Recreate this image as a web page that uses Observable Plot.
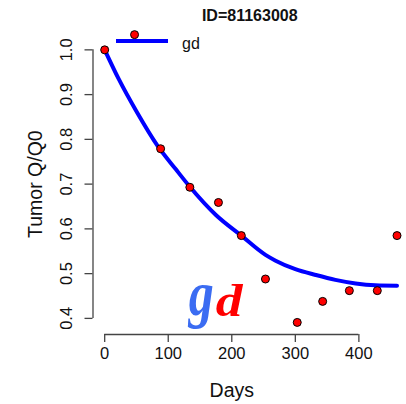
<!DOCTYPE html>
<html><head><meta charset="utf-8">
<script src="https://cdn.jsdelivr.net/npm/d3@7"></script>
<script src="https://cdn.jsdelivr.net/npm/@observablehq/plot@0.6"></script>
<style>
body{margin:0;background:#fff;}
svg{font-family:"Liberation Sans",Arial,sans-serif;}
</style>
</head><body><div id="chart"></div>
<script>
// observed data (days, tumor Q/Q0)
const days  = [0, 47, 88, 134, 179, 215, 253, 303, 343, 385, 429, 460];
const ratio = [1.0, 1.034, 0.779, 0.693, 0.659, 0.585, 0.488, 0.391, 0.438, 0.462, 0.462, 0.585];
// fitted curve
const fitDays  = [0, 22, 51, 83, 112, 134, 175, 215, 253, 269, 300, 332, 363, 395, 426, 460];
const fitRatio = [1.0, 0.935, 0.860, 0.786, 0.733, 0.694, 0.631, 0.585, 0.542, 0.529, 0.510, 0.497, 0.486, 0.478, 0.474, 0.473];
const xTicks = [0, 100, 200, 300, 400];
const yTicks = [0.4, 0.5, 0.6, 0.7, 0.8, 0.9, 1.0];
const titleText = "ID=81163008";
const xLabel = "Days";
const yLabel = "Tumor Q/Q0";
const legendLabel = "gd";
const logoChars  = ["g", "d"];
const logoColors = ["#3b6cf2", "#ff0000"];

const xDomain = [-18.4, 478.4];
const yDomain = [0.364, 1.06];

const pts = days.map((d, i) => ({day: d, r: ratio[i]}));
const fit = fitDays.map((d, i) => ({day: d, r: fitRatio[i]}));

const W = 406, H = 404, mL = 92.5, mT = 22.5, mB = 70;
const axisColor = "#444";

const plot = Plot.plot({
  width: W, height: H,
  marginLeft: mL, marginRight: 0, marginTop: mT, marginBottom: mB,
  style: {fontFamily: '"Liberation Sans", Arial, sans-serif', background: "#fff", overflow: "visible"},
  x: {domain: xDomain, range: [mL, 408.2]},
  y: {domain: yDomain, range: [H - mB, mT]},
  marks: [
    Plot.ruleY([yDomain[0]], {x1: xTicks[0], x2: xTicks[xTicks.length - 1], stroke: axisColor, strokeWidth: 1.3}),
    Plot.ruleX([xDomain[0]], {y1: yTicks[0], y2: yTicks[yTicks.length - 1], stroke: axisColor, strokeWidth: 1.3}),
    Plot.axisX({ticks: xTicks, tickSize: 8, tickPadding: 5, fontSize: 16.5, label: null, stroke: axisColor, strokeWidth: 1.3, color: "#111"}),
    Plot.axisY({ticks: yTicks, tickSize: 8, label: null, tickFormat: () => "", stroke: axisColor, strokeWidth: 1.3}),
    Plot.text(yTicks, {y: d => d, text: d => d.toFixed(1), frameAnchor: "left", dx: -26.5, rotate: -90, textAnchor: "middle", lineAnchor: "middle", fontSize: 16.5, fill: "#111"}),
    Plot.text([yLabel], {y: () => (yTicks[0] + yTicks[yTicks.length - 1]) / 2, text: d => d, frameAnchor: "left", dx: -57.5, rotate: -90, textAnchor: "middle", lineAnchor: "middle", fontSize: 19.5, fill: "#111"}),
    Plot.text([xLabel], {x: () => (xTicks[0] + xTicks[xTicks.length - 1]) / 2, text: d => d, frameAnchor: "bottom", dy: 56, lineAnchor: "middle", fontSize: 19.5, fill: "#111"}),
    Plot.text([titleText], {text: d => d, frameAnchor: "top", dy: -7, lineAnchor: "middle", fontSize: 16, fontWeight: "bold", fill: "#111"}),
    Plot.line(fit, {x: "day", y: "r", stroke: "#0000ff", strokeWidth: 4, curve: "monotone-x"}),
    Plot.dot(pts, {x: "day", y: "r", r: 4, fill: "#ff0000", stroke: "#000", strokeWidth: 1})
  ]
});

const svg = d3.select(plot);
// legend
const lg = svg.append("g");
lg.append("line").attr("x1", 116).attr("x2", 168).attr("y1", 41).attr("y2", 41)
  .attr("stroke", "#0000ff").attr("stroke-width", 4);
lg.append("text").attr("x", 191).attr("y", 48.5).attr("font-size", 16).attr("fill", "#111").text(legendLabel);

// logo: each glyph scaled to fit its ink box
const logoFont = '"Liberation Serif", "Times New Roman", serif';
const logoBoxes = [{x1: 188.3, x2: 213.3, y1: 285, y2: 327.7}, {x1: 217.7, x2: 245, y1: 284, y2: 316.7}];
const logoShiftX = 12;
const ctx = document.createElement("canvas").getContext("2d");
const fs = 100;
ctx.font = `italic bold ${fs}px ${logoFont}`;
logoChars.forEach((ch, i) => {
  const m = ctx.measureText(ch);
  const L = -m.actualBoundingBoxLeft, R = m.actualBoundingBoxRight;
  const T = -m.actualBoundingBoxAscent, B = m.actualBoundingBoxDescent;
  const b = logoBoxes[i];
  const sx = (b.x2 - b.x1) / (R - L), sy = (b.y2 - b.y1) / (B - T);
  svg.append("text")
    .attr("transform", `translate(${b.x1 - L * sx + logoShiftX},${b.y1 - T * sy}) scale(${sx},${sy})`)
    .attr("font-family", logoFont).attr("font-weight", "bold").attr("font-style", "italic")
    .attr("font-size", fs).attr("fill", logoColors[i]).text(ch);
});

document.getElementById("chart").appendChild(plot);
</script>
</body></html>
